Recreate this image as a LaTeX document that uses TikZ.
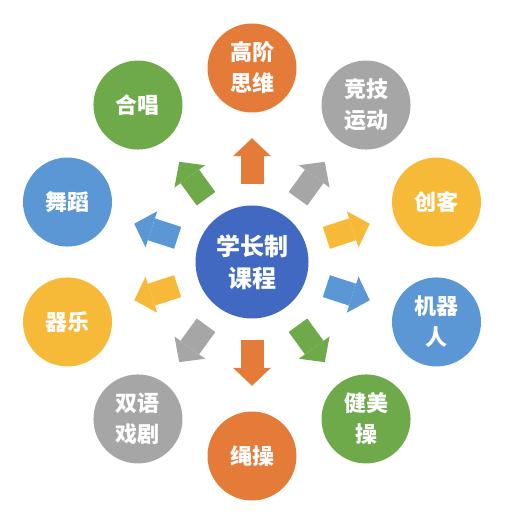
\documentclass[tikz,border=0pt]{standalone}
\usepackage{fontspec}
\setmainfont{Noto Sans CJK SC}
\usepackage{tikz}
\usetikzlibrary{positioning,calc,arrows.meta}

\definecolor{kOrange}{HTML}{E57B39}
\definecolor{kGray}{HTML}{A6A6A6}
\definecolor{kYellow}{HTML}{F6BA38}
\definecolor{kBlue}{HTML}{5B97D5}
\definecolor{kGreen}{HTML}{6FAA4A}
\definecolor{kHub}{HTML}{4169C2}

\tikzset{
  hub/.style={circle,minimum size=113pt,inner sep=0pt,fill=kHub,text=white,align=center,
    font=\fontsize{24}{32}\selectfont\bfseries},
  topic/.style={circle,minimum size=89pt,inner sep=0pt,text=white,align=center,
    font=\fontsize{22}{31}\selectfont\bfseries},
  flow/.style={line width=23pt,shorten <=21.5pt,shorten >=25.5pt,
    -{Triangle[width=38pt,length=18pt,line width=0pt]}}
}

\begin{document}
\begin{tikzpicture}[x=1pt,y=1pt]
\useasboundingbox (-252,-259) rectangle (274,262);

\node[hub] (hub) at (0,0) {学长制\\课程};

% ten topics round the hub
\foreach \a/\c/\t/\n in {90/kOrange/高阶\\思维/gaojie, 54/kGray/竞技\\运动/jingji,
  18/kYellow/创客/chuangke, -18/kBlue/机器\\人/jiqi, -54/kGreen/健美\\操/jianmei,
  -90/kOrange/绳操/shengcao, -126/kGray/双语\\戏剧/xiju, -162/kYellow/器乐/qiyue,
  162/kBlue/舞蹈/wudao, 126/kGreen/合唱/hechang}
{
  \node[topic,fill=\c] (\n) at (\a:194) {\t};
  \draw[flow,\c] (hub) -- (\n);
}
\end{tikzpicture}
\end{document}
